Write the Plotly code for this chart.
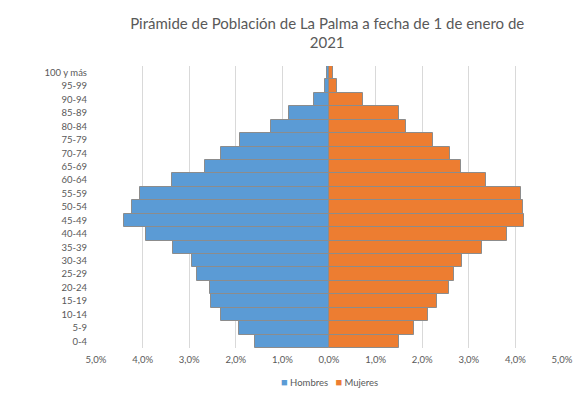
import plotly.graph_objects as go

# Age groups, bottom to top
grupos = ["0-4", "5-9", "10-14", "15-19", "20-24", "25-29", "30-34", "35-39",
          "40-44", "45-49", "50-54", "55-59", "60-64", "65-69", "70-74",
          "75-79", "80-84", "85-89", "90-94", "95-99", "100 y más"]

# Share of total population (%)
hombres = [1.59, 1.94, 2.32, 2.53, 2.55, 2.84, 2.95, 3.35, 3.93, 4.40, 4.23,
           4.06, 3.36, 2.66, 2.32, 1.90, 1.24, 0.86, 0.33, 0.09, 0.04]
mujeres = [1.51, 1.82, 2.13, 2.32, 2.58, 2.69, 2.86, 3.28, 3.81, 4.18, 4.16,
           4.11, 3.37, 2.84, 2.60, 2.23, 1.65, 1.51, 0.73, 0.18, 0.08]

tick_vals = [-5, -4, -3, -2, -1, 0, 1, 2, 3, 4, 5]
tick_text = ["5,0%", "4,0%", "3,0%", "2,0%", "1,0%", "0,0%",
             "1,0%", "2,0%", "3,0%", "4,0%", "5,0%"]

FONT = "Lato, 'Open Sans', sans-serif"
GRAY = "#595959"
AZUL = "#5B9BD5"
NARANJA = "#ED7D31"
outline = dict(color="#8c8c8c", width=1)

fig = go.Figure()
fig.add_trace(go.Bar(
    y=grupos, x=[-v for v in hombres], orientation="h", name="Hombres",
    marker=dict(color=AZUL, line=outline), showlegend=False,
    customdata=hombres, hovertemplate="%{y}: %{customdata:.2f}%<extra>Hombres</extra>",
))
fig.add_trace(go.Bar(
    y=grupos, x=mujeres, orientation="h", name="Mujeres",
    marker=dict(color=NARANJA, line=outline), showlegend=False,
    hovertemplate="%{y}: %{x:.2f}%<extra>Mujeres</extra>",
))

# Compact legend row under the axis
leyenda = (f"<span style='color:{AZUL};font-size:11px'>■</span> Hombres   "
           f"<span style='color:{NARANJA};font-size:11px'>■</span> Mujeres")
fig.add_annotation(
    text=leyenda, xref="paper", yref="paper", x=0.5, y=-0.09,
    xanchor="center", yanchor="top", showarrow=False,
    font=dict(family=FONT, size=9.5, color=GRAY),
)

fig.update_layout(
    width=574, height=394,
    barmode="overlay", bargap=0,
    paper_bgcolor="white", plot_bgcolor="white",
    font=dict(family=FONT, size=9.5, color=GRAY),
    margin=dict(l=96, r=12, t=66, b=46, autoexpand=False),
    title=dict(
        text="Pirámide de Población de La Palma a fecha de 1 de enero de<br>2021",
        x=0.57, xanchor="center", yref="container", y=0.927, yanchor="middle",
        font=dict(family=FONT, size=15, color=GRAY),
    ),
    xaxis=dict(
        range=[-5, 5], tickvals=tick_vals, ticktext=tick_text,
        showgrid=True, gridcolor="#d9d9d9", gridwidth=1,
        zeroline=False, showline=False, ticks="", automargin=False,
        tickfont=dict(size=9.5, color=GRAY), ticklabelstandoff=4,
    ),
    yaxis=dict(
        showgrid=False, zeroline=False, showline=False, ticks="",
        automargin=False, tickfont=dict(size=9.5, color=GRAY),
        ticklabelstandoff=8,
    ),
)

fig.write_html("out.html")
